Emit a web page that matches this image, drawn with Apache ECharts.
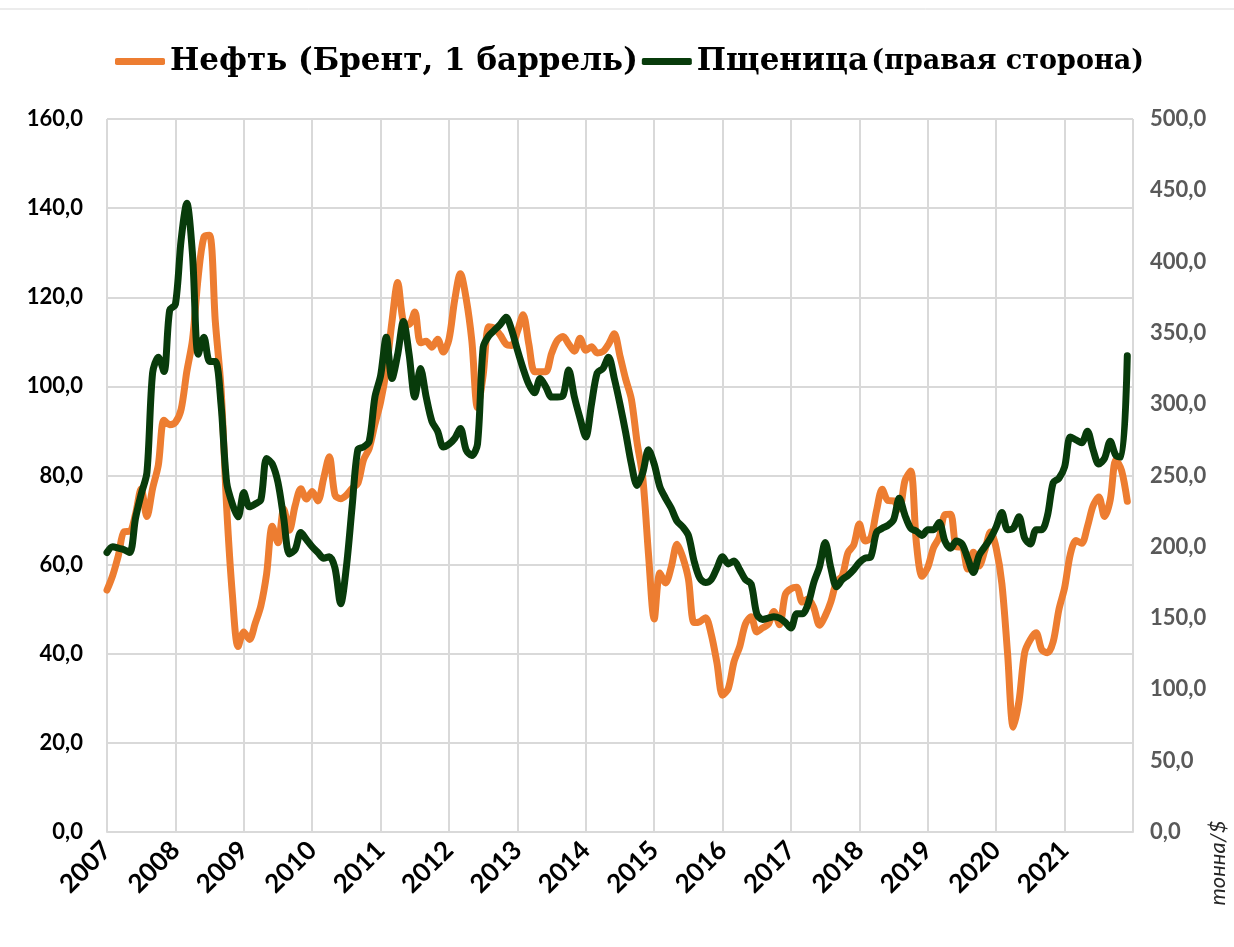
<!DOCTYPE html>
<html>
<head>
<meta charset="utf-8">
<script src="https://cdn.jsdelivr.net/npm/echarts@6/dist/echarts.min.js"></script>
<style>
  html, body { margin: 0; padding: 0; background: #fff; }
  #main { width: 1234px; height: 947px; }
</style>
</head>
<body>
<div id="main"></div>
<script>
// годы на оси (одна метка на январь каждого года)
var years = ['2007','2008','2009','2010','2011','2012','2013','2014',
             '2015','2016','2017','2018','2019','2020','2021'];

// Нефть Брент, $/баррель, помесячно 01.2007 - 12.2021
var oil = [
  54.3, 57.6, 62.1, 67.4, 67.5, 71.3, 77.0, 70.8, 77.1, 82.3, 92.4, 91.4,
  91.9, 94.8, 103.3, 110.4, 124.6, 133.5, 133.9, 114.6, 99.6, 72.7, 53.2, 41.6,
  44.9, 43.2, 46.8, 50.8, 57.9, 68.6, 64.9, 72.5, 67.7, 73.2, 77.0, 74.7,
  76.4, 74.3, 79.3, 84.2, 75.6, 74.8, 75.6, 77.1, 78.2, 83.5, 86.1, 91.5,
  96.5, 103.7, 114.6, 123.3, 114.5, 113.9, 116.7, 109.8, 110.1, 108.8, 110.6, 107.7,
  110.6, 119.4, 125.3, 119.8, 110.3, 95.2, 102.6, 113.4, 113.0, 111.5, 109.5, 109.2,
  112.3, 116.1, 109.5, 103.3, 103.3, 103.3, 107.4, 110.3, 111.2, 109.5, 107.9, 110.8,
  108.1, 108.9, 107.5, 107.8, 109.5, 111.8, 106.8, 101.6, 97.1, 87.4, 79.4, 62.3,
  47.8, 58.1, 55.9, 59.5, 64.6, 61.7, 56.8, 47.0, 47.2, 48.1, 44.4, 38.0,
  30.7, 32.2, 38.2, 41.6, 46.7, 48.3, 44.9, 45.8, 46.6, 49.5, 46.5, 53.3,
  54.6, 54.9, 51.6, 52.3, 50.3, 46.4, 48.5, 51.7, 56.2, 57.5, 62.7, 64.4,
  69.1, 65.3, 66.0, 72.1, 76.9, 74.4, 74.3, 72.5, 78.9, 81.0, 64.8, 57.4,
  59.4, 63.8, 66.1, 71.2, 71.3, 64.0, 63.9, 59.0, 62.8, 59.7, 63.2, 67.3,
  63.7, 55.7, 40.0, 23.5, 29.4, 40.3, 43.2, 44.7, 40.9, 40.2, 42.7, 49.9,
  54.8, 62.3, 65.4, 64.8, 68.5, 73.2, 75.2, 70.8, 74.5, 83.5, 81.1, 74.2
];

// Пшеница, $/тонна (правая ось)
var wheat = [
  196, 200, 199, 198, 196, 220, 237, 252, 322, 333, 323, 366,
  370, 415, 441, 405, 335, 347, 330, 330, 300, 245, 230, 221,
  238, 228, 230, 233, 262, 258, 245, 220, 195, 198, 210, 205,
  200, 196, 192, 193, 185, 160, 186, 228, 268, 270, 274, 305,
  320, 347, 318, 335, 358, 335, 305, 325, 305, 288, 281, 270,
  272, 276, 283, 268, 264, 272, 340, 348, 352, 356, 361, 352,
  338, 325, 314, 308, 318, 312, 305, 305, 306, 324, 305, 290,
  277, 300, 322, 325, 333, 318, 300, 280, 258, 243, 252, 268,
  258, 242, 234, 227, 218, 214, 208, 190, 178, 175, 177, 185,
  193, 188, 190, 184, 177, 174, 153, 149, 150, 151, 150, 147,
  143, 153, 153, 160, 175, 186, 203, 185, 172, 177, 180, 184,
  189, 192, 193, 210, 213, 215, 219, 234, 222, 213, 211, 208,
  212, 212, 217, 204, 199, 204, 202, 192, 182, 194, 200, 206,
  214, 224, 212, 213, 221, 206, 202, 212, 212, 222, 245, 248,
  256, 277, 275, 273, 281, 268, 258, 262, 274, 264, 263, 334
];

var oilName = 'Нефть (Брент, 1 баррель)';
var wheatName = 'Пщеница';

function toPairs(arr){
	var out = [];
	for (var i = 0; i < arr.length; i++) {
		out.push([i, arr[i]]);
	}
	return out;
}
function fmtNum(v){
	return v.toFixed(1).replace('.', ',');
}

var chart = echarts.init(document.getElementById('main'));
var option = {
	animation: false,
	backgroundColor: '#fff',
	legend: {
		top: 41,
		left: 110,
		icon: 'roundRect',
		itemWidth: 50,
		itemHeight: 7,
		itemGap: 4,
		selectedMode: false,
		data: [oilName, wheatName],
		formatter: function(n){
			if (n == wheatName) return '{a|' + n + '} {b|(правая сторона)}';
			return '{a|' + n + '}';
		},
		textStyle: {
			color: '#000',
			rich: {
				a: { fontFamily: 'DejaVu Serif', fontWeight: 'bold', fontSize: 31, color: '#000' },
				b: { fontFamily: 'DejaVu Serif', fontWeight: 'bold', fontSize: 27, color: '#000' }
			}
		}
	},
	grid: { left: 107, right: 101, top: 119, bottom: 115 },
	xAxis: {
		type: 'value',
		min: 0,
		max: 180,
		interval: 12,
		axisLine: { show: true, lineStyle: { color: '#d9d9d9', width: 2 } },
		axisTick: { show: false },
		splitLine: { show: true, lineStyle: { color: '#d9d9d9', width: 2 } },
		axisLabel: {
			rotate: 45,
			margin: 14,
			color: '#000',
			fontFamily: 'Lato',
			fontWeight: 'bold',
			fontSize: 26,
			formatter: function(v){
				var k = Math.round(v / 12);
				return k < years.length ? years[k] : '';
			}
		}
	},
	yAxis: [
		{
			type: 'value',
			min: 0,
			max: 160,
			interval: 20,
			axisLine: { show: false },
			axisTick: { show: false },
			splitLine: { show: true, lineStyle: { color: '#d9d9d9', width: 2 } },
			axisLabel: {
				margin: 24,
				color: '#000',
				fontFamily: 'Lato',
				fontWeight: 'bold',
				fontSize: 22,
				formatter: fmtNum
			}
		},
		{
			type: 'value',
			position: 'right',
			min: 0,
			max: 500,
			interval: 50,
			axisLine: { show: false },
			axisTick: { show: false },
			splitLine: { show: false },
			axisLabel: {
				margin: 17,
				color: '#595959',
				fontFamily: 'Lato',
				fontWeight: 'bold',
				fontSize: 22,
				formatter: fmtNum
			}
		}
	],
	graphic: [
		{
			type: 'line',
			shape: { x1: 0, y1: 9, x2: 1234, y2: 9 },
			style: { stroke: '#d9d9d9', lineWidth: 1 }
		},
		{
			type: 'text',
			x: 1218,
			y: 863,
			rotation: Math.PI / 2,
			style: {
				text: 'тонна/$',
				font: 'italic 22px Lato',
				fill: '#262626',
				textAlign: 'center',
				textVerticalAlign: 'middle'
			}
		}
	],
	series: [
		{
			name: oilName,
			type: 'line',
			yAxisIndex: 0,
			smooth: 0.3,
			showSymbol: false,
			color: '#ed7d31',
			lineStyle: { width: 7, color: '#ed7d31', cap: 'round', join: 'round' },
			data: toPairs(oil)
		},
		{
			name: wheatName,
			type: 'line',
			yAxisIndex: 1,
			smooth: 0.3,
			showSymbol: false,
			color: '#083b0b',
			lineStyle: { width: 7, color: '#083b0b', cap: 'round', join: 'round' },
			data: toPairs(wheat)
		}
	]
};
chart.setOption(option);
</script>
</body>
</html>
